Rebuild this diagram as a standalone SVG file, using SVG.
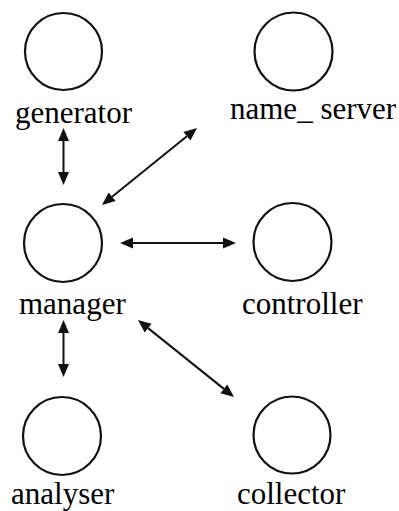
<svg xmlns="http://www.w3.org/2000/svg" width="399" height="511" viewBox="0 0 399 511">
<rect width="399" height="511" fill="#fff"/>
<g id="generator"><circle cx="63.5" cy="51.5" r="38.5" fill="none" stroke="#111" stroke-width="2.2"/><text x="15" y="123" style="font-family:'Liberation Serif',serif" font-size="31">generator</text></g>
<g id="name_server"><circle cx="293.5" cy="51.5" r="39" fill="none" stroke="#111" stroke-width="2.2"/><text x="230" y="119" style="font-family:'Liberation Serif',serif" font-size="31">name_ server</text></g>
<g id="manager"><circle cx="63" cy="243" r="39" fill="none" stroke="#111" stroke-width="2.2"/><text x="19" y="314" style="font-family:'Liberation Serif',serif" font-size="31">manager</text></g>
<g id="controller"><circle cx="292.5" cy="242" r="39" fill="none" stroke="#111" stroke-width="2.2"/><text x="242" y="314" style="font-family:'Liberation Serif',serif" font-size="31">controller</text></g>
<g id="analyser"><circle cx="62" cy="436" r="39" fill="none" stroke="#111" stroke-width="2.2"/><text x="11" y="504" style="font-family:'Liberation Serif',serif" font-size="31">analyser</text></g>
<g id="collector"><circle cx="292" cy="435" r="38.5" fill="none" stroke="#111" stroke-width="2.2"/><text x="237" y="504" style="font-family:'Liberation Serif',serif" font-size="31">collector</text></g>
<g id="connectors" stroke="#111" stroke-width="2" fill="#111">
<line x1="63.5" y1="140" x2="63.5" y2="173"/>
<polygon stroke="none" points="63.5,128 58,141 69,141"/>
<polygon stroke="none" points="63.5,185 58,172 69,172"/>
<line x1="186.9" y1="136.2" x2="112.1" y2="196.8"/>
<polygon stroke="none" points="197,128 190.4,140.5 183.4,131.9"/>
<polygon stroke="none" points="102,205 115.6,201.1 108.6,192.5"/>
<line x1="132" y1="243" x2="224" y2="243"/>
<polygon stroke="none" points="120,243 133,237.5 133,248.5"/>
<polygon stroke="none" points="236,243 223,237.5 223,248.5"/>
<line x1="148.1" y1="328.1" x2="223.9" y2="388.9"/>
<polygon stroke="none" points="138,320 144.7,332.4 151.6,323.8"/>
<polygon stroke="none" points="234,397 220.4,393.2 227.3,384.6"/>
<line x1="63.5" y1="332" x2="63.5" y2="365"/>
<polygon stroke="none" points="63.5,320 58,333 69,333"/>
<polygon stroke="none" points="63.5,377 58,364 69,364"/>
</g>
</svg>
